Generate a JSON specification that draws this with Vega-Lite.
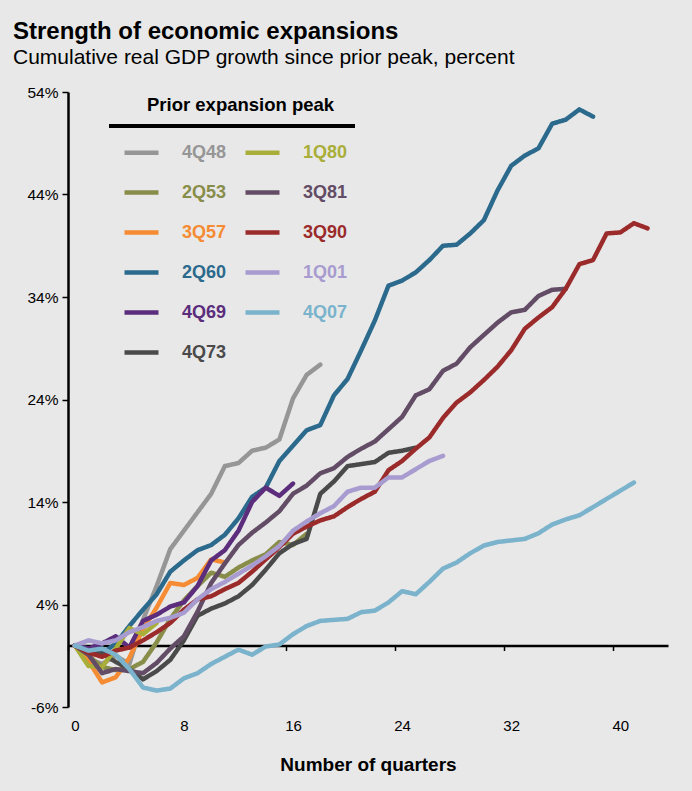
{
"$schema": "https://vega.github.io/schema/vega-lite/v6.json",
"width": 600, "height": 615,
"autosize": {"type": "none"},
"padding": {"left": 68, "top": 92, "right": 24, "bottom": 84},
"background": "#e8e8e8",
"title": {"text": "Strength of economic expansions", "subtitle": "Cumulative real GDP growth since prior peak, percent", "anchor": "start", "frame": "group", "dx": -55, "offset": 17, "font": "Liberation Sans", "fontSize": 24, "fontWeight": "bold", "color": "#000", "subtitleFont": "Liberation Sans", "subtitleFontSize": 21, "subtitleColor": "#000", "subtitlePadding": 3},
"data": {"values": [
{"s":"4Q48","q":0,"v":0},{"s":"4Q48","q":1,"v":-1.3},{"s":"4Q48","q":2,"v":-1.8},{"s":"4Q48","q":3,"v":-1.0},{"s":"4Q48","q":4,"v":-1.8},{"s":"4Q48","q":5,"v":2.5},{"s":"4Q48","q":6,"v":5.8},{"s":"4Q48","q":7,"v":9.4},{"s":"4Q48","q":8,"v":11.2},{"s":"4Q48","q":9,"v":13.0},{"s":"4Q48","q":10,"v":14.8},{"s":"4Q48","q":11,"v":17.5},{"s":"4Q48","q":12,"v":17.8},{"s":"4Q48","q":13,"v":19.0},{"s":"4Q48","q":14,"v":19.3},{"s":"4Q48","q":15,"v":20.1},{"s":"4Q48","q":16,"v":24.1},{"s":"4Q48","q":17,"v":26.4},{"s":"4Q48","q":18,"v":27.4},
{"s":"2Q53","q":0,"v":0},{"s":"2Q53","q":1,"v":-1.0},{"s":"2Q53","q":2,"v":-2.1},{"s":"2Q53","q":3,"v":-2.4},{"s":"2Q53","q":4,"v":-2.3},{"s":"2Q53","q":5,"v":-1.6},{"s":"2Q53","q":6,"v":0.3},{"s":"2Q53","q":7,"v":2.6},{"s":"2Q53","q":8,"v":4.4},{"s":"2Q53","q":9,"v":5.8},{"s":"2Q53","q":10,"v":7.1},{"s":"2Q53","q":11,"v":6.7},{"s":"2Q53","q":12,"v":7.6},{"s":"2Q53","q":13,"v":8.3},{"s":"2Q53","q":14,"v":8.9},{"s":"2Q53","q":15,"v":10.1},{"s":"2Q53","q":16,"v":9.8},{"s":"2Q53","q":17,"v":10.9},
{"s":"3Q57","q":0,"v":0},{"s":"3Q57","q":1,"v":-1.5},{"s":"3Q57","q":2,"v":-3.6},{"s":"3Q57","q":3,"v":-3.1},{"s":"3Q57","q":4,"v":-1.2},{"s":"3Q57","q":5,"v":1.6},{"s":"3Q57","q":6,"v":3.7},{"s":"3Q57","q":7,"v":6.1},{"s":"3Q57","q":8,"v":5.9},{"s":"3Q57","q":9,"v":6.6},{"s":"3Q57","q":10,"v":8.4},{"s":"3Q57","q":11,"v":8.1},
{"s":"2Q60","q":0,"v":0},{"s":"2Q60","q":1,"v":-0.3},{"s":"2Q60","q":2,"v":-0.8},{"s":"2Q60","q":3,"v":0.2},{"s":"2Q60","q":4,"v":1.9},{"s":"2Q60","q":5,"v":3.5},{"s":"2Q60","q":6,"v":5.0},{"s":"2Q60","q":7,"v":7.2},{"s":"2Q60","q":8,"v":8.3},{"s":"2Q60","q":9,"v":9.3},{"s":"2Q60","q":10,"v":9.8},{"s":"2Q60","q":11,"v":10.8},{"s":"2Q60","q":12,"v":12.4},{"s":"2Q60","q":13,"v":14.5},{"s":"2Q60","q":14,"v":15.4},{"s":"2Q60","q":15,"v":18.0},{"s":"2Q60","q":16,"v":19.5},{"s":"2Q60","q":17,"v":21.0},{"s":"2Q60","q":18,"v":21.5},{"s":"2Q60","q":19,"v":24.4},{"s":"2Q60","q":20,"v":26.0},{"s":"2Q60","q":21,"v":28.8},{"s":"2Q60","q":22,"v":31.7},{"s":"2Q60","q":23,"v":35.1},{"s":"2Q60","q":24,"v":35.6},{"s":"2Q60","q":25,"v":36.4},{"s":"2Q60","q":26,"v":37.6},{"s":"2Q60","q":27,"v":39.0},{"s":"2Q60","q":28,"v":39.1},{"s":"2Q60","q":29,"v":40.2},{"s":"2Q60","q":30,"v":41.5},{"s":"2Q60","q":31,"v":44.4},{"s":"2Q60","q":32,"v":46.8},{"s":"2Q60","q":33,"v":47.8},{"s":"2Q60","q":34,"v":48.5},{"s":"2Q60","q":35,"v":50.9},{"s":"2Q60","q":36,"v":51.3},{"s":"2Q60","q":37,"v":52.3},{"s":"2Q60","q":38,"v":51.6},
{"s":"4Q69","q":0,"v":0},{"s":"4Q69","q":1,"v":-0.3},{"s":"4Q69","q":2,"v":0.2},{"s":"4Q69","q":3,"v":0.9},{"s":"4Q69","q":4,"v":-0.2},{"s":"4Q69","q":5,"v":2.4},{"s":"4Q69","q":6,"v":3.0},{"s":"4Q69","q":7,"v":3.8},{"s":"4Q69","q":8,"v":4.2},{"s":"4Q69","q":9,"v":5.8},{"s":"4Q69","q":10,"v":8.3},{"s":"4Q69","q":11,"v":9.3},{"s":"4Q69","q":12,"v":11.2},{"s":"4Q69","q":13,"v":14.0},{"s":"4Q69","q":14,"v":15.4},{"s":"4Q69","q":15,"v":14.6},{"s":"4Q69","q":16,"v":15.8},
{"s":"4Q73","q":0,"v":0},{"s":"4Q73","q":1,"v":-0.8},{"s":"4Q73","q":2,"v":-0.8},{"s":"4Q73","q":3,"v":-1.6},{"s":"4Q73","q":4,"v":-2.3},{"s":"4Q73","q":5,"v":-3.3},{"s":"4Q73","q":6,"v":-2.5},{"s":"4Q73","q":7,"v":-1.4},{"s":"4Q73","q":8,"v":0.5},{"s":"4Q73","q":9,"v":2.9},{"s":"4Q73","q":10,"v":3.6},{"s":"4Q73","q":11,"v":4.1},{"s":"4Q73","q":12,"v":4.8},{"s":"4Q73","q":13,"v":5.9},{"s":"4Q73","q":14,"v":7.4},{"s":"4Q73","q":15,"v":9.0},{"s":"4Q73","q":16,"v":9.9},{"s":"4Q73","q":17,"v":10.4},{"s":"4Q73","q":18,"v":14.8},{"s":"4Q73","q":19,"v":16.0},{"s":"4Q73","q":20,"v":17.5},{"s":"4Q73","q":21,"v":17.7},{"s":"4Q73","q":22,"v":17.9},{"s":"4Q73","q":23,"v":18.8},{"s":"4Q73","q":24,"v":19.0},{"s":"4Q73","q":25,"v":19.3},
{"s":"1Q80","q":0,"v":0},{"s":"1Q80","q":1,"v":-2.0},{"s":"1Q80","q":2,"v":-2.1},{"s":"1Q80","q":3,"v":-0.3},{"s":"1Q80","q":4,"v":1.7},{"s":"1Q80","q":5,"v":1.1},{"s":"1Q80","q":6,"v":2.2},
{"s":"3Q81","q":0,"v":0},{"s":"3Q81","q":1,"v":-0.9},{"s":"3Q81","q":2,"v":-2.7},{"s":"3Q81","q":3,"v":-2.3},{"s":"3Q81","q":4,"v":-2.5},{"s":"3Q81","q":5,"v":-2.7},{"s":"3Q81","q":6,"v":-1.7},{"s":"3Q81","q":7,"v":-0.3},{"s":"3Q81","q":8,"v":0.9},{"s":"3Q81","q":9,"v":3.3},{"s":"3Q81","q":10,"v":6.1},{"s":"3Q81","q":11,"v":8.0},{"s":"3Q81","q":12,"v":9.8},{"s":"3Q81","q":13,"v":11.0},{"s":"3Q81","q":14,"v":12.0},{"s":"3Q81","q":15,"v":13.1},{"s":"3Q81","q":16,"v":14.8},{"s":"3Q81","q":17,"v":15.6},{"s":"3Q81","q":18,"v":16.8},{"s":"3Q81","q":19,"v":17.3},{"s":"3Q81","q":20,"v":18.4},{"s":"3Q81","q":21,"v":19.2},{"s":"3Q81","q":22,"v":19.9},{"s":"3Q81","q":23,"v":21.1},{"s":"3Q81","q":24,"v":22.3},{"s":"3Q81","q":25,"v":24.4},{"s":"3Q81","q":26,"v":25.0},{"s":"3Q81","q":27,"v":26.8},{"s":"3Q81","q":28,"v":27.5},{"s":"3Q81","q":29,"v":29.1},{"s":"3Q81","q":30,"v":30.3},{"s":"3Q81","q":31,"v":31.5},{"s":"3Q81","q":32,"v":32.5},{"s":"3Q81","q":33,"v":32.75},{"s":"3Q81","q":34,"v":34.1},{"s":"3Q81","q":35,"v":34.7},{"s":"3Q81","q":36,"v":34.8},
{"s":"3Q90","q":0,"v":0},{"s":"3Q90","q":1,"v":-0.7},{"s":"3Q90","q":2,"v":-1.1},{"s":"3Q90","q":3,"v":-0.5},{"s":"3Q90","q":4,"v":-0.2},{"s":"3Q90","q":5,"v":0.5},{"s":"3Q90","q":6,"v":1.3},{"s":"3Q90","q":7,"v":2.2},{"s":"3Q90","q":8,"v":3.5},{"s":"3Q90","q":9,"v":4.5},{"s":"3Q90","q":10,"v":4.8},{"s":"3Q90","q":11,"v":5.5},{"s":"3Q90","q":12,"v":6.1},{"s":"3Q90","q":13,"v":7.2},{"s":"3Q90","q":14,"v":8.4},{"s":"3Q90","q":15,"v":9.6},{"s":"3Q90","q":16,"v":10.9},{"s":"3Q90","q":17,"v":11.6},{"s":"3Q90","q":18,"v":12.2},{"s":"3Q90","q":19,"v":12.6},{"s":"3Q90","q":20,"v":13.5},{"s":"3Q90","q":21,"v":14.3},{"s":"3Q90","q":22,"v":15.0},{"s":"3Q90","q":23,"v":17.1},{"s":"3Q90","q":24,"v":18.0},{"s":"3Q90","q":25,"v":19.2},{"s":"3Q90","q":26,"v":20.3},{"s":"3Q90","q":27,"v":22.2},{"s":"3Q90","q":28,"v":23.7},{"s":"3Q90","q":29,"v":24.7},{"s":"3Q90","q":30,"v":25.9},{"s":"3Q90","q":31,"v":27.2},{"s":"3Q90","q":32,"v":28.8},{"s":"3Q90","q":33,"v":30.9},{"s":"3Q90","q":34,"v":32.0},{"s":"3Q90","q":35,"v":33.0},{"s":"3Q90","q":36,"v":34.8},{"s":"3Q90","q":37,"v":37.2},{"s":"3Q90","q":38,"v":37.6},{"s":"3Q90","q":39,"v":40.2},{"s":"3Q90","q":40,"v":40.3},{"s":"3Q90","q":41,"v":41.2},{"s":"3Q90","q":42,"v":40.7},
{"s":"1Q01","q":0,"v":0},{"s":"1Q01","q":1,"v":0.5},{"s":"1Q01","q":2,"v":0.2},{"s":"1Q01","q":3,"v":0.5},{"s":"1Q01","q":4,"v":1.3},{"s":"1Q01","q":5,"v":1.8},{"s":"1Q01","q":6,"v":2.4},{"s":"1Q01","q":7,"v":2.7},{"s":"1Q01","q":8,"v":3.2},{"s":"1Q01","q":9,"v":4.5},{"s":"1Q01","q":10,"v":5.5},{"s":"1Q01","q":11,"v":6.2},{"s":"1Q01","q":12,"v":7.0},{"s":"1Q01","q":13,"v":7.8},{"s":"1Q01","q":14,"v":8.7},{"s":"1Q01","q":15,"v":9.7},{"s":"1Q01","q":16,"v":11.2},{"s":"1Q01","q":17,"v":12.1},{"s":"1Q01","q":18,"v":12.9},{"s":"1Q01","q":19,"v":13.6},{"s":"1Q01","q":20,"v":15.0},{"s":"1Q01","q":21,"v":15.4},{"s":"1Q01","q":22,"v":15.4},{"s":"1Q01","q":23,"v":16.4},{"s":"1Q01","q":24,"v":16.4},{"s":"1Q01","q":25,"v":17.2},{"s":"1Q01","q":26,"v":18.0},{"s":"1Q01","q":27,"v":18.5},
{"s":"4Q07","q":0,"v":0},{"s":"4Q07","q":1,"v":-0.5},{"s":"4Q07","q":2,"v":-0.3},{"s":"4Q07","q":3,"v":-0.9},{"s":"4Q07","q":4,"v":-2.3},{"s":"4Q07","q":5,"v":-4.1},{"s":"4Q07","q":6,"v":-4.4},{"s":"4Q07","q":7,"v":-4.2},{"s":"4Q07","q":8,"v":-3.2},{"s":"4Q07","q":9,"v":-2.7},{"s":"4Q07","q":10,"v":-1.8},{"s":"4Q07","q":11,"v":-1.1},{"s":"4Q07","q":12,"v":-0.4},{"s":"4Q07","q":13,"v":-0.9},{"s":"4Q07","q":14,"v":-0.1},{"s":"4Q07","q":15,"v":0.1},{"s":"4Q07","q":16,"v":1.1},{"s":"4Q07","q":17,"v":1.9},{"s":"4Q07","q":18,"v":2.4},{"s":"4Q07","q":19,"v":2.5},{"s":"4Q07","q":20,"v":2.6},{"s":"4Q07","q":21,"v":3.25},{"s":"4Q07","q":22,"v":3.4},{"s":"4Q07","q":23,"v":4.2},{"s":"4Q07","q":24,"v":5.3},{"s":"4Q07","q":25,"v":5.0},{"s":"4Q07","q":26,"v":6.2},{"s":"4Q07","q":27,"v":7.5},{"s":"4Q07","q":28,"v":8.1},{"s":"4Q07","q":29,"v":9.0},{"s":"4Q07","q":30,"v":9.75},{"s":"4Q07","q":31,"v":10.1},{"s":"4Q07","q":32,"v":10.25},{"s":"4Q07","q":33,"v":10.4},{"s":"4Q07","q":34,"v":10.95},{"s":"4Q07","q":35,"v":11.8},{"s":"4Q07","q":36,"v":12.3},{"s":"4Q07","q":37,"v":12.7},{"s":"4Q07","q":38,"v":13.5},{"s":"4Q07","q":39,"v":14.3},{"s":"4Q07","q":40,"v":15.1},{"s":"4Q07","q":41,"v":15.9}
]},
"mark": {"type": "line", "strokeWidth": 4.5, "strokeCap": "round", "strokeJoin": "round"},
"encoding": {
  "x": {"field": "q", "type": "quantitative", "scale": {"domain": [-0.5, 43.5], "nice": false, "zero": false},
        "axis": {"values": [0, 8, 16, 24, 32, 40], "title": "Number of quarters", "offset": -61.5, "grid": false,
                 "domainColor": "#000", "domainWidth": 2.5, "tickColor": "#000", "tickWidth": 1.5, "tickSize": 5,
                 "tickOffset": -6.818, "labelOffset": 6.818, "labelPadding": 68, "labelFontSize": 15, "labelColor": "#000",
                 "labelFont": "Liberation Sans", "titleFont": "Liberation Sans", "titleFontSize": 19, "titleFontWeight": "bold", "titleColor": "#000", "titlePadding": 22}},
  "y": {"field": "v", "type": "quantitative", "scale": {"domain": [-6, 54], "nice": false, "zero": false},
        "axis": {"values": [-6, 4, 14, 24, 34, 44, 54], "labelExpr": "datum.value + '%'", "title": null, "grid": false,
                 "domainColor": "#000", "domainWidth": 2.5, "tickColor": "#000", "tickWidth": 1.5, "tickSize": 6,
                 "labelPadding": 4, "labelFontSize": 15.5, "labelColor": "#000", "labelFont": "Liberation Sans"}},
  "strokeDash": {"datum": "peak", "type": "nominal", "scale": {"range": [[1, 0]]},
    "legend": {"orient": "none", "legendX": 79, "legendY": 4, "padding": 0, "title": "Prior expansion peak", "titleLimit": 500,
               "titleFont": "Liberation Sans", "titleFontSize": 18.5, "titleFontWeight": "bold", "titleColor": "#000", "titlePadding": 0,
               "symbolOpacity": 0, "symbolSize": 1, "labelOpacity": 0, "labelExpr": "''"}},
  "color": {"field": "s", "type": "nominal",
    "scale": {"domain": ["4Q48", "2Q53", "3Q57", "2Q60", "4Q69", "4Q73", "1Q80", "3Q81", "3Q90", "1Q01", "4Q07"],
              "range": ["#969696", "#898d4a", "#f58b32", "#2b6a8c", "#5b2d7c", "#4a4a4a", "#a9ae38", "#634c65", "#9b2b2b", "#a79bcf", "#7ab3cb"]},
    "legend": {"orient": "none", "legendX": 41, "legendY": 34, "columns": 2, "columnPadding": 9, "rowPadding": 11,
               "padding": 7, "symbolType": "stroke", "symbolSize": 1156, "symbolStrokeWidth": 4.5, "symbolOffset": 6, "labelOffset": 21,
               "labelFont": "Liberation Sans", "labelFontSize": 18, "labelFontWeight": "bold", "title": null,
               "encode": {
                 "labels": {"update": {"fill": {"scale": "color", "field": "value"}}},
                 "legend": {"update": {"stroke": {"value": "#000"}, "strokeWidth": {"value": 4}, "strokeDash": {"value": [246, 10000]}, "strokeOffset": {"value": 0}}}
               }}}
},
"config": {"font": "Liberation Sans", "view": {"stroke": null}}
}
